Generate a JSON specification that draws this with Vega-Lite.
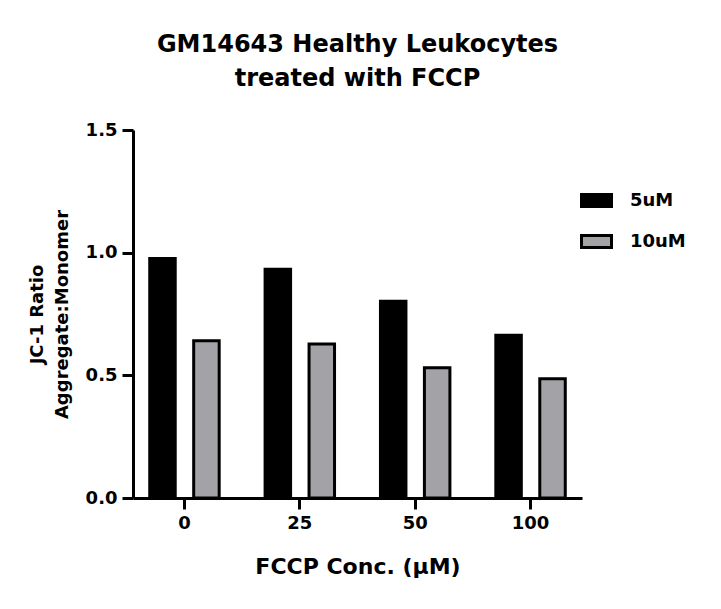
{
  "$schema": "https://vega.github.io/schema/vega-lite/v6.json",
  "autosize": {"type": "none"},
  "padding": {"left": 133, "top": 130, "right": 139, "bottom": 111},
  "width": 449,
  "height": 368,
  "background": "white",
  "title": {
    "text": ["GM14643 Healthy Leukocytes", "treated with FCCP"],
    "font": "DejaVu Sans",
    "fontSize": 24,
    "fontWeight": "bold",
    "color": "black",
    "anchor": "middle",
    "lineHeight": 34,
    "offset": 30
  },
  "data": {
    "values": [
      {"conc": "0", "dye": "5uM", "ratio": 0.976},
      {"conc": "0", "dye": "10uM", "ratio": 0.641},
      {"conc": "25", "dye": "5uM", "ratio": 0.932},
      {"conc": "25", "dye": "10uM", "ratio": 0.628},
      {"conc": "50", "dye": "5uM", "ratio": 0.802},
      {"conc": "50", "dye": "10uM", "ratio": 0.531},
      {"conc": "100", "dye": "5uM", "ratio": 0.663},
      {"conc": "100", "dye": "10uM", "ratio": 0.486}
    ]
  },
  "mark": {"type": "bar", "stroke": "black", "strokeWidth": 3},
  "encoding": {
    "x": {
      "field": "conc",
      "type": "ordinal",
      "sort": ["0", "25", "50", "100"],
      "scale": {"paddingInner": 0.398, "paddingOuter": 0.145},
      "axis": {
        "title": "FCCP Conc. (μM)",
        "labelAngle": 0,
        "titleFontSize": 22,
        "titlePadding": 24
      }
    },
    "xOffset": {
      "field": "dye",
      "type": "nominal",
      "sort": ["5uM", "10uM"],
      "scale": {"paddingInner": 0.42, "paddingOuter": 0}
    },
    "y": {
      "field": "ratio",
      "type": "quantitative",
      "scale": {"domain": [0, 1.5], "nice": false},
      "axis": {
        "title": ["JC-1 Ratio", "Aggregate:Monomer"],
        "values": [0, 0.5, 1, 1.5],
        "format": ".1f",
        "titleFontSize": 18,
        "titlePadding": 14,
        "titleLineHeight": 25
      }
    },
    "color": {
      "field": "dye",
      "type": "nominal",
      "sort": ["5uM", "10uM"],
      "scale": {"domain": ["5uM", "10uM"], "range": ["#000000", "#a3a2a6"]},
      "legend": {
        "title": null,
        "orient": "none",
        "legendX": 447,
        "legendY": 54,
        "symbolType": "M-1,-0.4H1V0.4H-1Z",
        "symbolSize": 900,
        "symbolStrokeColor": "black",
        "symbolStrokeWidth": 3,
        "symbolOpacity": 1,
        "labelFont": "DejaVu Sans",
        "labelFontSize": 18,
        "labelFontWeight": "bold",
        "labelColor": "black",
        "labelOffset": 17,
        "rowPadding": 12
      }
    }
  },
  "config": {
    "view": {"stroke": null},
    "axis": {
      "grid": false,
      "domainColor": "black",
      "domainWidth": 3,
      "tickColor": "black",
      "tickWidth": 3,
      "tickSize": 11,
      "labelFont": "DejaVu Sans",
      "labelFontSize": 18,
      "labelFontWeight": "bold",
      "labelColor": "black",
      "labelPadding": 5,
      "titleFont": "DejaVu Sans",
      "titleFontSize": 20,
      "titleFontWeight": "bold",
      "titleColor": "black"
    }
  }
}
